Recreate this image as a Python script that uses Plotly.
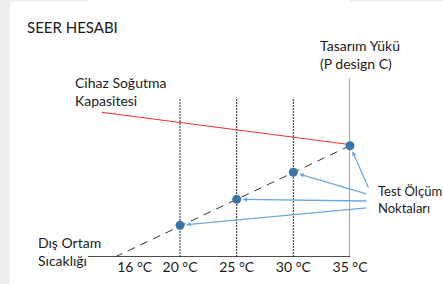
import plotly.graph_objects as go

# ---- data ----
temps = [20, 25, 30, 35]                 # test measurement temperatures (°C)
load_pct = [28.5, 51.8, 76.1, 100.0]     # part load (% of P design C)
load_line_x = [14.26, 35]                # dashed building-load line
load_line_y = [0, 100.0]
cap_line_x = [13.09, 35]                 # unit cooling capacity line
cap_line_y = [130.0, 101.0]
baseline_x = [11.88, 35]
grid_temps = [20, 25, 30]
grid_top = 143.1
design_top = 160.5
tick_vals = [16, 20, 25, 30, 35]
tick_text = ["16 °C", "20 °C", "25 °C", "30 °C", "35 °C"]

title = "SEER HESABI"
lbl_capacity = "Cihaz Soğutma<br>Kapasitesi"
lbl_design = "Tasarım Yükü<br>(P design C)"
lbl_points = "Test Ölçüm<br>Noktaları"
lbl_outdoor = "Dış Ortam<br>Sıcaklığı"

# ---- pixel helpers (layout only) ----
W, H = 443, 284
ML, MR, MT, MB = 88, 93, 0, 27
XS = 262 / (35 - 11.88)      # px per °C
YS = 1.113                   # px per %
PW, PH = W - ML - MR, H - MT - MB
def dx(px):
    return 11.88 + (px - ML) / XS
def dy(py):
    return (257 - py) / YS
def paper_x(px):
    return (px - ML) / PW
def paper_y(py):
    return (H - MB - py) / PH

FONT = "Lato"
TXT = "#1a1a1a"
fig = go.Figure()

for t in grid_temps:
    fig.add_trace(go.Scatter(x=[t, t], y=[0, grid_top], mode="lines",
                             line=dict(color="#2a2a2a", width=1, dash="2px,1px"),
                             hoverinfo="skip", showlegend=False, cliponaxis=False))
fig.add_trace(go.Scatter(x=[35, 35], y=[0, design_top], mode="lines",
                         line=dict(color="#7a7a7a", width=1.3),
                         hoverinfo="skip", showlegend=False, cliponaxis=False))
fig.add_trace(go.Scatter(x=baseline_x, y=[0, 0], mode="lines",
                         line=dict(color="#111111", width=1.3),
                         hoverinfo="skip", showlegend=False, cliponaxis=False))
fig.add_trace(go.Scatter(x=load_line_x, y=load_line_y, mode="lines",
                         line=dict(color="#333333", width=1, dash="8px,6px"),
                         hoverinfo="skip", showlegend=False, cliponaxis=False))
fig.add_trace(go.Scatter(x=cap_line_x, y=cap_line_y, mode="lines",
                         line=dict(color="#f0302a", width=1),
                         hoverinfo="skip", showlegend=False, cliponaxis=False))
fig.add_trace(go.Scatter(x=temps, y=load_pct, mode="markers",
                         marker=dict(color="#3a74a6", size=9),
                         hoverinfo="skip", showlegend=False, cliponaxis=False))

# pointer lines from label to test points
tails = [(368, 207.7), (368, 201), (368, 194.3), (369, 189)]
for (t, v), (tx, ty) in zip(zip(temps, load_pct), tails):
    fig.add_annotation(x=t, y=v, ax=dx(tx), ay=dy(ty), axref="x", ayref="y",
                       xref="x", yref="y", text="", showarrow=True,
                       arrowhead=2, arrowsize=0.7, arrowwidth=1.3,
                       arrowcolor="#6aa8de", standoff=6)

fig.update_layout(
    width=W, height=H,
    margin=dict(l=ML, r=MR, t=MT, b=MB),
    paper_bgcolor="#efefed", plot_bgcolor="white",
    xaxis=dict(range=[11.88, 35], showgrid=False, zeroline=False, showline=False,
               tickvals=tick_vals, ticktext=tick_text, ticks="",
               tickfont=dict(family=FONT, size=14, color=TXT), fixedrange=True),
    yaxis=dict(range=[0, 257 / YS], visible=False, fixedrange=True),
    showlegend=False,
)
# white card (paper keeps a thin gray strip at left/top)
fig.add_shape(type="rect", xref="paper", yref="paper", layer="below",
              x0=paper_x(10), x1=paper_x(W + 2), y0=paper_y(H + 2), y1=paper_y(2),
              fillcolor="white", line=dict(width=0))

layout_labels = [
    (lbl_capacity, 73, 92, 14),
    (lbl_design, 318, 54, 14),
    (lbl_points, 376, 199, 13),
    (lbl_outdoor, 36, 251, 14),
]
for txt, px, py, fs in layout_labels:
    fig.add_annotation(x=paper_x(px), y=paper_y(py), xref="paper", yref="paper",
                       text=txt, showarrow=False, xanchor="left", yanchor="middle",
                       align="left", font=dict(family=FONT, size=fs, color=TXT))
fig.add_annotation(x=paper_x(25), y=paper_y(27), xref="paper", yref="paper",
                   text=title, showarrow=False, xanchor="left", yanchor="middle",
                   font=dict(family=FONT, size=15, color=TXT))

fig.write_html("out.html", config={"displayModeBar": False},
               post_script="document.body.style.margin='0';")
